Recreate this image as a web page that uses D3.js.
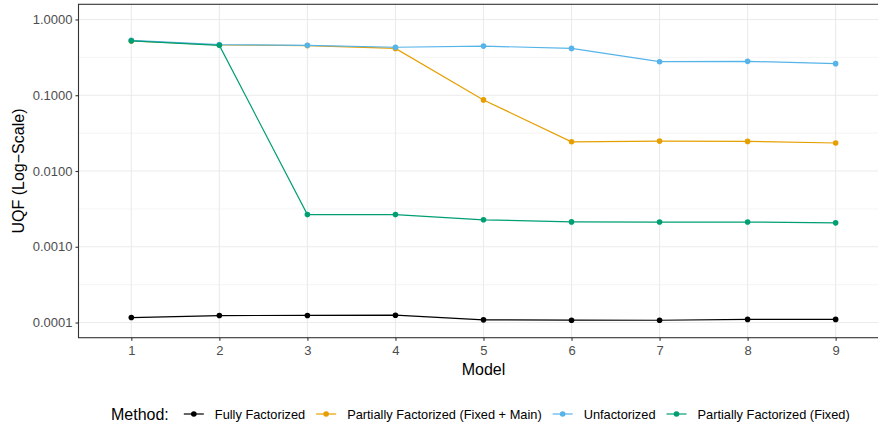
<!DOCTYPE html>
<html><head><meta charset="utf-8">
<script src="https://cdn.jsdelivr.net/npm/d3@7"></script>
<style>body{margin:0;background:#fff}text{font-family:"Liberation Sans",Arial,sans-serif}</style>
</head><body><svg id="c" width="878" height="426"></svg>
<script>
const models = [1,2,3,4,5,6,7,8,9];
const methods = ["Fully Factorized","Partially Factorized (Fixed + Main)","Unfactorized","Partially Factorized (Fixed)"];
const colors = ["#000000","#E69F00","#56B4E9","#009E73"];
const fullyFactorized = [0.0001164,0.0001237,0.000124,0.000125,0.0001086,0.0001074,0.0001072,0.00011,0.00011];
const partialFixedMain = [0.52,0.46,0.452,0.415,0.0867,0.0243,0.0248,0.0246,0.0234];
const unfactorized = [0.53,0.465,0.455,0.43,0.445,0.415,0.277,0.28,0.261];
const partialFixed = [0.522,0.455,0.00266,0.00266,0.00227,0.00213,0.00212,0.00212,0.00207];
const yTicks = [0.0001,0.001,0.01,0.1,1];
const yMinor = [Math.pow(10,-3.5),Math.pow(10,-2.5),Math.pow(10,-1.5),Math.pow(10,-0.5)];
const seriesValues = [fullyFactorized, partialFixedMain, unfactorized, partialFixed];

const svg = d3.select("#c");
const L = 78.5, T = 4.3, B = 337.7;
const step = 88.04;
const R = L + step*(models.length - 1 + 1.2);
const x = d3.scalePoint().domain(models).range([L + 0.6*step, R - 0.6*step]);
const y = d3.scaleLog().domain([Math.pow(10,-4.2), Math.pow(10,0.2)]).range([B, T]);

const g = svg.append("g");
g.selectAll(".ymin").data(yMinor).join("line").attr("x1",L).attr("x2",R)
  .attr("y1",d=>y(d)).attr("y2",d=>y(d)).attr("stroke","#EBEBEB").attr("stroke-width",0.55);
g.selectAll(".ymaj").data(yTicks).join("line").attr("x1",L).attr("x2",R)
  .attr("y1",d=>y(d)).attr("y2",d=>y(d)).attr("stroke","#EBEBEB").attr("stroke-width",1.1);
g.selectAll(".xmaj").data(models).join("line").attr("y1",T).attr("y2",B)
  .attr("x1",d=>x(d)).attr("x2",d=>x(d)).attr("stroke","#EBEBEB").attr("stroke-width",1.1);

const line = d3.line().x((d,i)=>x(models[i])).y(d=>y(d));
seriesValues.forEach((vals,k)=>{
  g.append("path").datum(vals).attr("d",line).attr("fill","none")
    .attr("stroke",colors[k]).attr("stroke-width",1.2);
  g.selectAll(null).data(vals).join("circle").attr("cx",(d,i)=>x(models[i])).attr("cy",d=>y(d))
    .attr("r",2.8).attr("fill",colors[k]);
});

g.append("rect").attr("x",L).attr("y",T).attr("width",R-L).attr("height",B-T)
  .attr("fill","none").attr("stroke","#333333").attr("stroke-width",1.1);

const yAxis = d3.axisLeft(y).tickValues(yTicks).tickFormat(d3.format(".4f")).tickSizeOuter(0).tickSize(3).tickPadding(3);
const ya = svg.append("g").attr("transform",`translate(${L},0)`).call(yAxis);
ya.select(".domain").remove();
ya.selectAll("line").attr("stroke","#333333").attr("stroke-width",1.1);
ya.selectAll("text").attr("fill","#4D4D4D").style("font-size","13px").style("font-family","Liberation Sans, Arial, sans-serif");

const xAxis = d3.axisBottom(x).tickSizeOuter(0).tickSize(3).tickPadding(5);
const xa = svg.append("g").attr("transform",`translate(0,${B})`).call(xAxis);
xa.select(".domain").remove();
xa.selectAll("line").attr("stroke","#333333").attr("stroke-width",1.1);
xa.selectAll("text").attr("fill","#4D4D4D").style("font-size","13px").style("font-family","Liberation Sans, Arial, sans-serif");

svg.append("text").attr("x",x(5)).attr("y",375).attr("text-anchor","middle")
  .style("font-size","16px").text("Model");
svg.append("text").attr("transform",`translate(24,${(T+B)/2}) rotate(-90)`).attr("text-anchor","middle")
  .style("font-size","16px").text("UQF (Log\u2212Scale)");

const ly = 414;
const leg = svg.append("g");
const title = leg.append("text").attr("x",111).attr("y",ly+5.7).style("font-size","16px").text("Method:");
let cx = 111 + title.node().getComputedTextLength() + 15;
methods.forEach((m,k)=>{
  leg.append("line").attr("x1",cx).attr("x2",cx+20).attr("y1",ly).attr("y2",ly)
    .attr("stroke",colors[k]).attr("stroke-width",1.2);
  leg.append("circle").attr("cx",cx+10).attr("cy",ly).attr("r",2.8).attr("fill",colors[k]);
  const t = leg.append("text").attr("x",cx+31).attr("y",ly+4.6).style("font-size","12.8px").text(m);
  cx = cx + 31 + t.node().getComputedTextLength() + 11;
});
</script></body></html>
